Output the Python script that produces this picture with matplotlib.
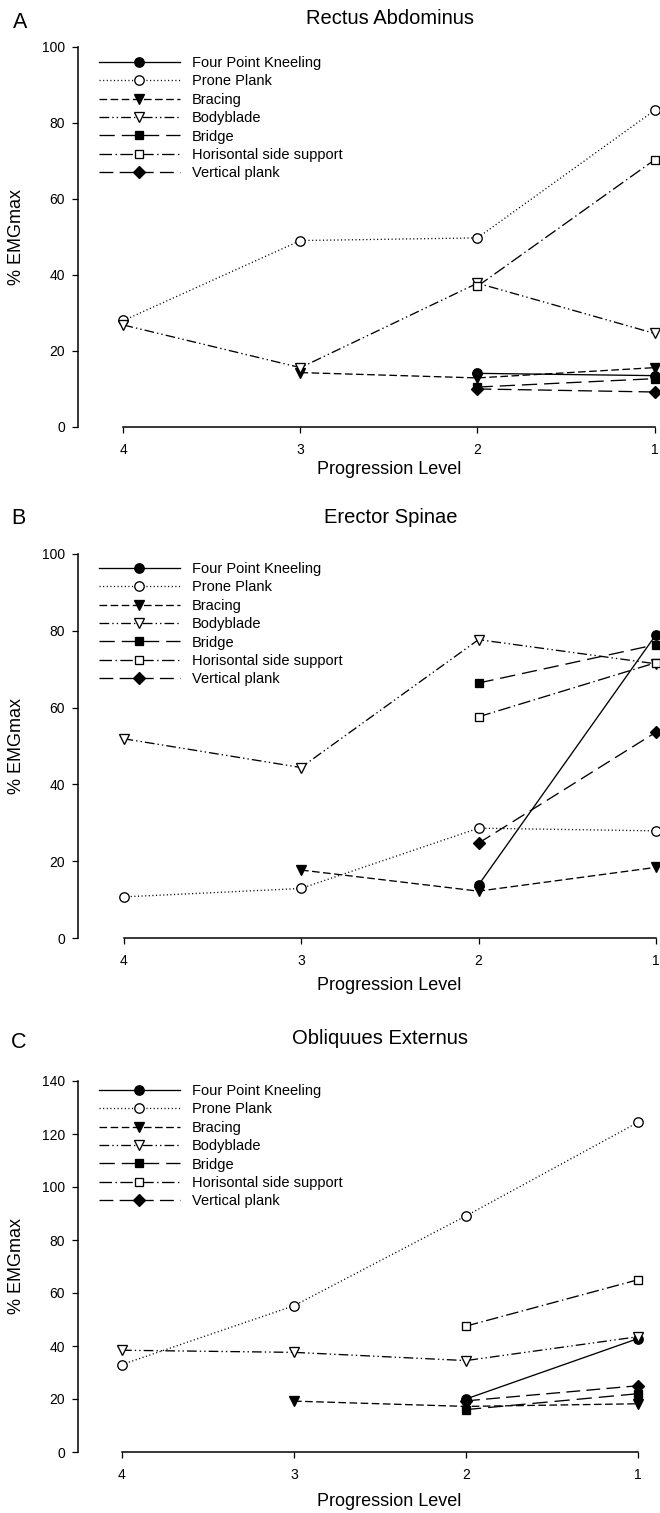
import numpy as np
import matplotlib
matplotlib.use("Agg")
import matplotlib.pyplot as plt

plt.rcParams['font.family'] = ['Liberation Sans', 'DejaVu Sans']
plt.rcParams['lines.scale_dashes'] = False

nan = np.nan
levels = [4, 3, 2, 1]
series_names = ["Four Point Kneeling", "Prone Plank", "Bracing", "Bodyblade",
                "Bridge", "Horisontal side support", "Vertical plank"]

# Panel A: Rectus Abdominus
ra_fpk = [nan, nan, 14.1, 13.5]
ra_pp = [28.0, 49.0, 49.7, 83.2]
ra_brac = [nan, 14.3, 12.9, 15.6]
ra_body = [26.8, 15.6, 37.8, 24.6]
ra_bridge = [nan, nan, 10.5, 12.7]
ra_side = [nan, nan, 37.0, 70.2]
ra_vert = [nan, nan, 10.0, 9.2]

# Panel B: Erector Spinae
es_fpk = [nan, nan, 13.8, 79.0]
es_pp = [10.7, 12.9, 28.6, 27.9]
es_brac = [nan, 17.7, 12.2, 18.4]
es_body = [51.9, 44.4, 77.7, 71.4]
es_bridge = [nan, nan, 66.4, 76.4]
es_side = [nan, nan, 57.6, 71.7]
es_vert = [nan, nan, 24.7, 53.6]

# Panel C: Obliquues Externus
oe_fpk = [nan, nan, 20.0, 42.8]
oe_pp = [33.0, 55.2, 89.1, 124.4]
oe_brac = [nan, 19.2, 17.2, 18.2]
oe_body = [38.4, 37.6, 34.5, 43.5]
oe_bridge = [nan, nan, 16.0, 22.0]
oe_side = [nan, nan, 47.5, 65.0]
oe_vert = [nan, nan, 19.3, 25.0]

panel_titles = ["Rectus Abdominus", "Erector Spinae", "Obliquues Externus"]
panel_letters = ["A", "B", "C"]
y_maxes = [100, 100, 140]

panels_data = [
    [ra_fpk, ra_pp, ra_brac, ra_body, ra_bridge, ra_side, ra_vert],
    [es_fpk, es_pp, es_brac, es_body, es_bridge, es_side, es_vert],
    [oe_fpk, oe_pp, oe_brac, oe_body, oe_bridge, oe_side, oe_vert],
]

# styles: (linestyle, marker, facecolor, markersize)
styles = [
    ('-', 'o', 'black', 6.8),
    ((0, (0.8, 1.8)), 'o', 'white', 6.8),
    ((0, (5.5, 2.5)), 'v', 'black', 6.8),
    ((0, (7, 2.2, 1, 2.2, 1, 2.2)), 'v', 'white', 6.8),
    ((0, (11, 5)), 's', 'black', 6.0),
    ((0, (9, 2.5, 1, 2.5)), 's', 'white', 6.0),
    ((0, (10, 4.5)), 'D', 'black', 6.0),
]

W, H = 660, 1513
fig = plt.figure(figsize=(W / 100, H / 100), dpi=100)

geom = [
    dict(y0=427, ytop=46.5, x4=123.5, x1=654.5, leg=63, title=(389.5, 19), letter=(20, 22), xlab=469),
    dict(y0=938, ytop=554, x4=123.5, x1=656, leg=569, title=(391, 517), letter=(18, 519), xlab=986),
    dict(y0=1452, ytop=1081, x4=122, x1=638, leg=1091, title=(380, 1039), letter=(19, 1042), xlab=1502),
]
axis_x_px = 77.5

for p in range(3):
    g = geom[p]
    ymax = y_maxes[p]
    left = axis_x_px / W
    width = (W - axis_x_px) / W
    bottom = 1 - g['y0'] / H
    height = (g['y0'] - g['ytop']) / H
    ax = fig.add_axes([left, bottom, width, height])
    ppu = (g['x1'] - g['x4']) / 3.0
    xl = 4 + (g['x4'] - axis_x_px) / ppu
    xr = 1 - (W - g['x1']) / ppu
    ax.set_xlim(xl, xr)
    ax.set_ylim(0, ymax)

    handles = []
    for s, (vals, st) in enumerate(zip(panels_data[p], styles)):
        ls, mk, fc, ms = st
        ln, = ax.plot(levels, vals, linestyle=ls, color='black', linewidth=0.95,
                      marker=mk, markersize=ms, markerfacecolor=fc,
                      markeredgecolor='black', markeredgewidth=0.95,
                      clip_on=False, zorder=3 + s, label=series_names[s])
        handles.append(ln)

    for side in ['top', 'right']:
        ax.spines[side].set_visible(False)
    ax.spines['left'].set_bounds(0, ymax)
    ax.spines['bottom'].set_bounds(1, 4)
    ax.spines['left'].set_linewidth(1.1)
    ax.spines['bottom'].set_linewidth(1.1)
    ax.set_xticks(levels)
    ax.set_xticklabels([str(v) for v in levels])
    ax.set_yticks(np.arange(0, ymax + 1, 20))
    ax.tick_params(axis='y', direction='out', length=4.3, width=0.9, pad=4.8, labelsize=10)
    ax.tick_params(axis='x', direction='out', length=4.3, width=0.9, pad=7.0, labelsize=10)

    ax.set_ylabel("% EMGmax", fontsize=13)
    ax.yaxis.set_label_coords((25 - axis_x_px) / (W - axis_x_px), 0.5)
    ax.set_xlabel("Progression Level", fontsize=13)
    xlab_ax_x = (389.5 - axis_x_px) / (W - axis_x_px)
    xlab_ax_y = (g['y0'] - g['xlab']) / (g['y0'] - g['ytop'])
    ax.xaxis.set_label_coords(xlab_ax_x, xlab_ax_y)
    ax.xaxis.label.set_va('center')

    ax.legend(handles=handles, loc='upper left',
              bbox_to_anchor=(98.5 / W, 1 - (g['leg'] - 7.0) / H),
              bbox_transform=fig.transFigure, frameon=False,
              fontsize=10.5, handlelength=5.6, handletextpad=0.8,
              labelspacing=0.30, borderpad=0, borderaxespad=0, numpoints=1)

    fig.text(g['title'][0] / W, 1 - g['title'][1] / H, panel_titles[p],
             fontsize=14.5, ha='center', va='center')
    fig.text(g['letter'][0] / W, 1 - g['letter'][1] / H, panel_letters[p],
             fontsize=15.5, ha='center', va='center')

fig.savefig("out.png", dpi=100)
